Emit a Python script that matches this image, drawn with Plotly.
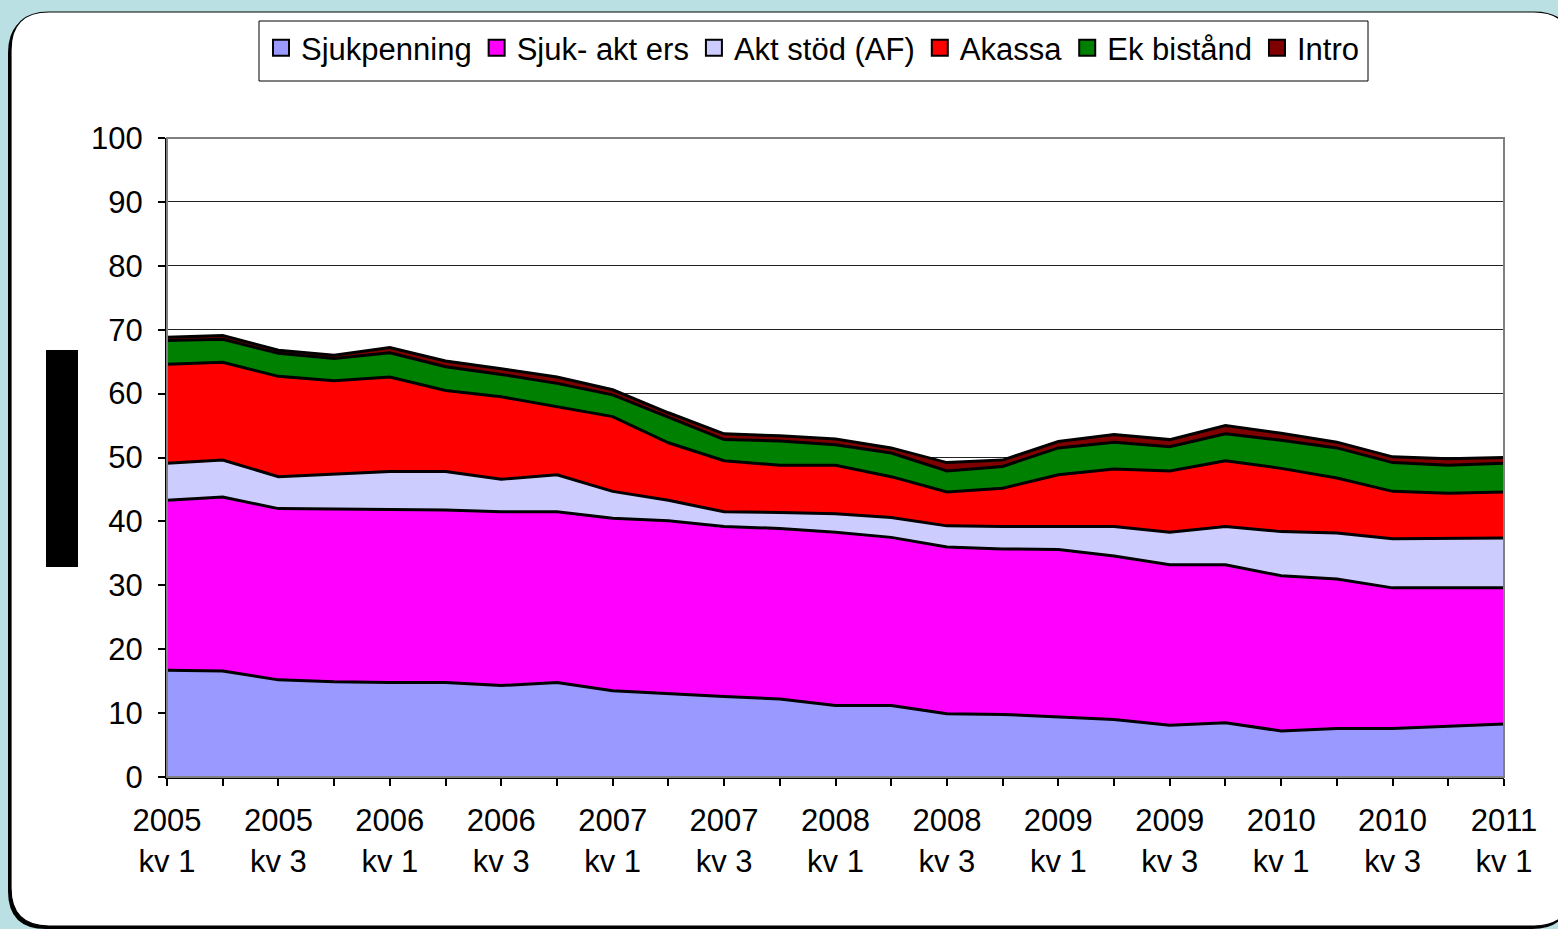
import plotly.graph_objects as go

quarters = ["2005 kv 1", "2005 kv 2", "2005 kv 3", "2005 kv 4",
            "2006 kv 1", "2006 kv 2", "2006 kv 3", "2006 kv 4",
            "2007 kv 1", "2007 kv 2", "2007 kv 3", "2007 kv 4",
            "2008 kv 1", "2008 kv 2", "2008 kv 3", "2008 kv 4",
            "2009 kv 1", "2009 kv 2", "2009 kv 3", "2009 kv 4",
            "2010 kv 1", "2010 kv 2", "2010 kv 3", "2010 kv 4",
            "2011 kv 1"]

sjukpenning = [16.7, 16.6, 15.2, 14.9, 14.8, 14.8, 14.3, 14.8, 13.5, 13.0, 12.6, 12.2, 11.2,
               11.2, 9.9, 9.8, 9.4, 9.0, 8.1, 8.5, 7.2, 7.6, 7.6, 7.9, 8.3]
sjuk_akt_ers = [26.6, 27.2, 26.8, 27.0, 27.1, 27.0, 27.2, 26.7, 27.0, 27.1, 26.6, 26.7, 27.1,
                26.3, 26.1, 25.9, 26.2, 25.6, 25.1, 24.7, 24.3, 23.4, 22.0, 21.7, 21.3]
akt_stod = [5.8, 5.8, 5.0, 5.5, 5.9, 6.0, 5.1, 5.8, 4.2, 3.2, 2.3, 2.5, 2.9,
            3.1, 3.3, 3.5, 3.6, 4.6, 5.1, 6.0, 6.9, 7.2, 7.7, 7.7, 7.8]
akassa = [15.5, 15.3, 15.7, 14.6, 14.8, 12.7, 12.9, 10.7, 11.7, 9.0, 8.0, 7.4, 7.6,
          6.4, 5.3, 6.0, 8.1, 9.0, 9.6, 10.3, 9.9, 8.6, 7.4, 7.1, 7.2]
ek_bistand = [3.7, 3.6, 3.6, 3.5, 3.8, 3.7, 3.5, 3.6, 3.4, 4.0, 3.3, 3.8, 3.2,
              3.7, 3.3, 3.4, 4.2, 4.2, 3.8, 4.2, 4.4, 4.7, 4.5, 4.4, 4.5]
intro = [0.5, 0.6, 0.5, 0.5, 0.8, 0.9, 0.9, 1.0, 0.8, 0.7, 0.9, 0.8, 0.9,
         0.8, 1.3, 1.0, 1.0, 1.2, 1.1, 1.3, 1.1, 0.9, 0.9, 1.0, 0.9]

series_names = ["Sjukpenning", "Sjuk- akt ers", "Akt stöd (AF)", "Akassa", "Ek bistånd", "Intro"]
series_values = [sjukpenning, sjuk_akt_ers, akt_stod, akassa, ek_bistand, intro]
series_colors = ["#9999FF", "#FF00FF", "#CCCCFF", "#FF0000", "#008000", "#800000"]

yticks = [0, 10, 20, 30, 40, 50, 60, 70, 80, 90, 100]

W, H = 1558, 929
L, R, T, B = 167, 1504, 138, 777
FONT = "Liberation Sans, Arial, sans-serif"
FS = 31
BG = "#BAE0E3"


def px(x):
    return (x - L) / (R - L)


def py(y):
    return (B - y) / (B - T)


def rounded(x0, y0, x1, y1, r):
    pts = [
        f"M{px(x0 + r)},{py(y0)}",
        f"L{px(x1 - r)},{py(y0)}",
        f"Q{px(x1)},{py(y0)} {px(x1)},{py(y0 + r)}",
        f"L{px(x1)},{py(y1 - r)}",
        f"Q{px(x1)},{py(y1)} {px(x1 - r)},{py(y1)}",
        f"L{px(x0 + r)},{py(y1)}",
        f"Q{px(x0)},{py(y1)} {px(x0)},{py(y1 - r)}",
        f"L{px(x0)},{py(y0 + r)}",
        f"Q{px(x0)},{py(y0)} {px(x0 + r)},{py(y0)}",
        "Z",
    ]
    return " ".join(pts)


xs = list(range(len(quarters)))
ticktext = []
for i, q in enumerate(quarters):
    if i % 2 == 0:
        yr, kv = q.split(" ", 1)
        ticktext.append(f"{yr}<br>{kv}")
    else:
        ticktext.append("")

fig = go.Figure()
for name, vals, col in zip(series_names, series_values, series_colors):
    fig.add_trace(go.Scatter(
        x=xs, y=vals, name=name, stackgroup="one", mode="lines",
        line=dict(color="#000000", width=3), fillcolor=col,
        showlegend=False, hoverinfo="x+y+name",
    ))
for name, col in zip(series_names, series_colors):
    fig.add_trace(go.Scatter(
        x=[None], y=[None], name=name, mode="markers",
        marker=dict(symbol="square", size=16, color=col, line=dict(color="#000000", width=2)),
        showlegend=True,
    ))

shapes = [
    # shadow of panel
    dict(type="path", xref="paper", yref="paper", layer="below",
         path=rounded(8, 15, 1570, 929, 38), fillcolor="#000000", line=dict(width=0)),
    # white panel
    dict(type="path", xref="paper", yref="paper", layer="below",
         path=rounded(11, 12, 1572, 926, 38), fillcolor="#FFFFFF",
         line=dict(color="#000000", width=1.2)),
    # legend box
    dict(type="rect", xref="paper", yref="paper", layer="below",
         x0=px(259), x1=px(1368), y0=py(81), y1=py(21),
         fillcolor="#FFFFFF", line=dict(color="#000000", width=1)),
    # plot border top/right grey
    dict(type="rect", xref="paper", yref="paper", x0=0, y0=0, x1=1, y1=1,
         line=dict(color="#808080", width=2), layer="above"),
    # black bar on the left
    dict(type="rect", xref="paper", yref="paper", x0=px(46), x1=px(78), y0=py(567), y1=py(350),
         fillcolor="#000000", line=dict(width=0), layer="above"),
]

fig.update_layout(
    width=W, height=H,
    margin=dict(l=L, r=W - R, t=T, b=H - B, pad=0),
    paper_bgcolor=BG,
    plot_bgcolor="#FFFFFF",
    font=dict(family=FONT, size=FS, color="#000000"),
    shapes=shapes,
    showlegend=True,
    legend=dict(
        orientation="h", traceorder="normal",
        x=px(813), xanchor="center", y=py(48), yanchor="middle",
        bgcolor="rgba(0,0,0,0)", borderwidth=0,
        font=dict(family=FONT, size=FS, color="#000000"),
        itemsizing="trace",
    ),
    xaxis=dict(
        range=[0, len(quarters) - 1], tickmode="array", tickvals=xs, ticktext=ticktext,
        ticks="outside", ticklen=7, tickwidth=1.5, tickcolor="#000000",
        showline=True, linecolor="#000000", linewidth=2, showgrid=False, zeroline=False,
        tickfont=dict(family=FONT, size=FS), ticklabelstandoff=8,
    ),
    yaxis=dict(
        range=[0, 100], tickmode="array", tickvals=yticks,
        ticks="outside", ticklen=7, tickwidth=1.5, tickcolor="#000000",
        showline=True, linecolor="#000000", linewidth=2,
        showgrid=True, gridcolor="#222222", gridwidth=1, zeroline=False,
        tickfont=dict(family=FONT, size=FS), ticklabelstandoff=9,
    ),
)

fig.write_html(
    "out.html",
    config={"displayModeBar": False},
    post_script=f"document.body.style.margin='0px';document.body.style.background='{BG}';"
                "document.body.style.overflow='hidden';",
)
